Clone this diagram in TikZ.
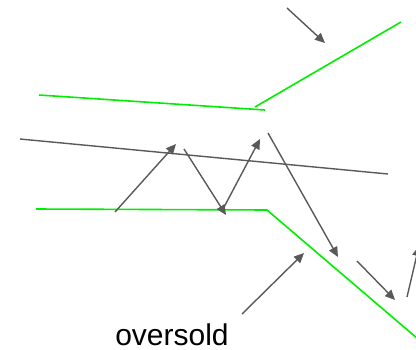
\documentclass[tikz,border=0pt]{standalone}
\usepackage{fontspec}
\setmainfont{Liberation Sans}
\usetikzlibrary{arrows.meta}
\definecolor{lgreen}{HTML}{00EE00}
\definecolor{dgray}{HTML}{595959}
\begin{document}
\begin{tikzpicture}[x=1pt,y=-1pt,
  band/.style={draw=lgreen,line width=1.6pt},
  trend/.style={draw=dgray,line width=1.4pt},
  mover/.style={draw=dgray,line width=1.4pt,-{Triangle[length=10pt,width=9pt]}}]
\useasboundingbox (0,0) rectangle (416,349);
\clip (0,0) rectangle (416,349);
% upper green band
\coordinate (u1) at (39,95);
\coordinate (u2) at (265,110);
\coordinate (u3) at (255,107);
\coordinate (u4) at (401,22);
\draw[band] (u1) -- (u2);
\draw[band] (u3) -- (u4);
% gray trend line
\coordinate (g1) at (20,139);
\coordinate (g2) at (388,174);
\draw[trend] (g1) -- (g2);
% lower green band
\coordinate (l1) at (36,209);
\coordinate (l2) at (267,210);
\coordinate (l3) at (418,339);
\draw[band] (l1) -- (l2) -- (l3);
% arrows
\coordinate (a1s) at (115,212); \coordinate (a1e) at (176,144);
\coordinate (a2s) at (184,149); \coordinate (a2e) at (226,215);
\coordinate (a3s) at (222,211); \coordinate (a3e) at (260,139);
\coordinate (a4s) at (268,133); \coordinate (a4e) at (338,257);
\coordinate (a5s) at (357,261); \coordinate (a5e) at (395,300);
\coordinate (a6s) at (407,297); \coordinate (a6e) at (419,246);
\coordinate (a7s) at (287,8);   \coordinate (a7e) at (325,43);
\coordinate (a8s) at (242,314); \coordinate (a8e) at (304,253);
\draw[mover] (a1s) -- (a1e);
\draw[mover] (a2s) -- (a2e);
\draw[mover] (a3s) -- (a3e);
\draw[mover] (a4s) -- (a4e);
\draw[mover] (a5s) -- (a5e);
\draw[mover] (a6s) -- (a6e);
\draw[mover] (a7s) -- (a7e);
\draw[mover] (a8s) -- (a8e);
% label
\node[font=\fontsize{30}{32}\selectfont,inner sep=0pt,anchor=base] (lbl) at (172,345) {oversold};
\end{tikzpicture}
\end{document}
